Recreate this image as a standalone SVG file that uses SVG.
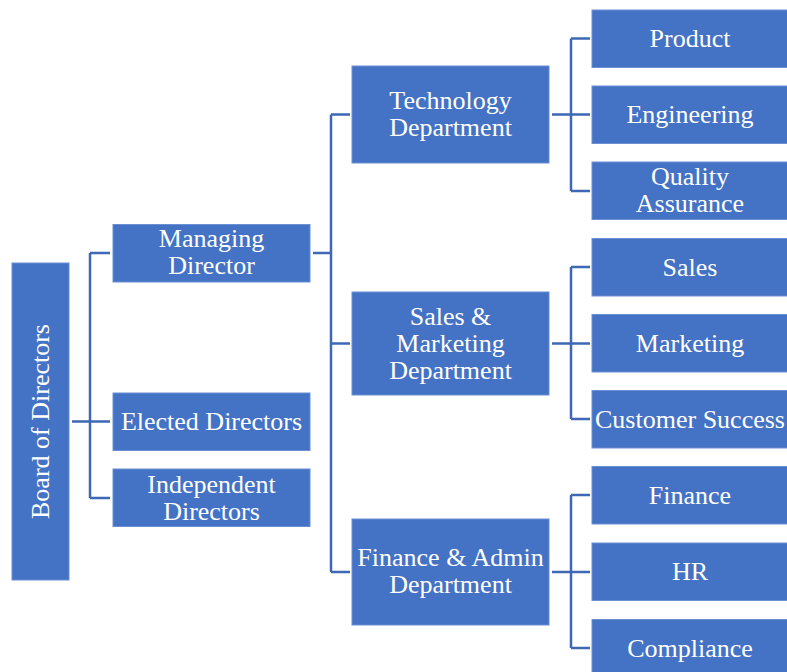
<svg xmlns="http://www.w3.org/2000/svg" width="787" height="672" viewBox="0 0 787 672">
<style>
.box{fill:#4472C4;stroke:#6A8FD3;stroke-width:1}
.t{font-family:'Liberation Serif',Tinos,'Times New Roman',Times,'DejaVu Serif',serif;font-size:26px;fill:#FFFFFF;text-anchor:middle}
.c{fill:none;stroke:#3E68B5;stroke-width:2.5}
</style>
<rect width="787" height="672" fill="#FFFFFF"/>
<g id="connectors">
<path class="c" d="M72,421.5H110M90,253V498M90,253H110M90,498H110"/>
<path class="c" d="M313,253H331M331,114.5V572M331,114.5H350M331,343.5H350M331,572H350"/>
<path class="c" d="M552,114.5H590M571,38.5V191M571,38.5H590M571,191H590"/>
<path class="c" d="M552,343.5H590M571,267V419M571,267H590M571,419H590"/>
<path class="c" d="M552,572H590M571,495V648M571,495H590M571,648H590"/>
</g>
<g id="board"><rect class="box" x="12" y="263" width="57" height="317"/><text class="t" transform="translate(40.5,421.5) rotate(-90)" x="0" y="8">Board of Directors</text></g>
<g id="managing"><rect class="box" x="113" y="224.5" width="197" height="57.5"/><text class="t" x="211.5" y="247">Managing</text><text class="t" x="211.5" y="274">Director</text></g>
<g id="elected"><rect class="box" x="113" y="393" width="197" height="57.5"/><text class="t" x="211.5" y="430">Elected Directors</text></g>
<g id="independent"><rect class="box" x="113" y="469" width="197" height="57.5"/><text class="t" x="211.5" y="492.5">Independent</text><text class="t" x="211.5" y="519.5">Directors</text></g>
<g id="tech"><rect class="box" x="352" y="66" width="197" height="97"/><text class="t" x="450.5" y="108.5">Technology</text><text class="t" x="450.5" y="135.5">Department</text></g>
<g id="salesmkt"><rect class="box" x="352" y="292" width="197" height="103"/><text class="t" x="450.5" y="324.5">Sales &amp;</text><text class="t" x="450.5" y="351.5">Marketing</text><text class="t" x="450.5" y="378.5">Department</text></g>
<g id="finadmin"><rect class="box" x="352" y="519" width="197" height="106"/><text class="t" x="450.5" y="566">Finance &amp; Admin</text><text class="t" x="450.5" y="593">Department</text></g>
<g id="product"><rect class="box" x="592" y="10" width="196" height="57.5"/><text class="t" x="690" y="47">Product</text></g>
<g id="engineering"><rect class="box" x="592" y="86" width="196" height="57.5"/><text class="t" x="690" y="123">Engineering</text></g>
<g id="qa"><rect class="box" x="592" y="162" width="196" height="57.5"/><text class="t" x="690" y="185">Quality</text><text class="t" x="690" y="212">Assurance</text></g>
<g id="sales"><rect class="box" x="592" y="238.5" width="196" height="57.5"/><text class="t" x="690" y="275.5">Sales</text></g>
<g id="marketing"><rect class="box" x="592" y="314.5" width="196" height="57.5"/><text class="t" x="690" y="351.5">Marketing</text></g>
<g id="customer"><rect class="box" x="592" y="390.5" width="196" height="57.5"/><text class="t" x="690" y="427.5">Customer Success</text></g>
<g id="finance"><rect class="box" x="592" y="466.5" width="196" height="57.5"/><text class="t" x="690" y="503.5">Finance</text></g>
<g id="hr"><rect class="box" x="592" y="543" width="196" height="57.5"/><text class="t" x="690" y="580">HR</text></g>
<g id="compliance"><rect class="box" x="592" y="619.5" width="196" height="57.5"/><text class="t" x="690" y="656.5">Compliance</text></g>
</svg>
